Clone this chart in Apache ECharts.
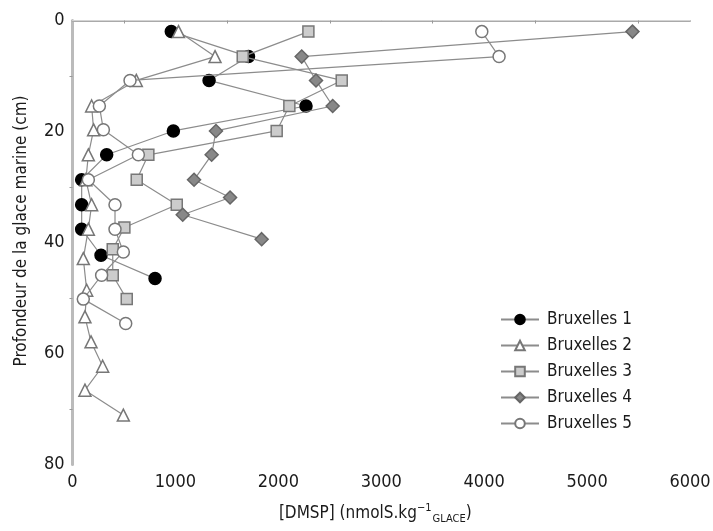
<!DOCTYPE html>
<html>
<head>
<meta charset="utf-8">
<script src="https://cdn.jsdelivr.net/npm/echarts@6/dist/echarts.min.js"></script>
<style>
  html, body { margin: 0; padding: 0; background: #fff; }
  #chart { width: 713px; height: 531px; }
</style>
</head>
<body>
<div id="chart"></div>
<script>
// DMSP (nmolS/kg) and depth (cm), one pair of arrays per site
const seriesNames = ['Bruxelles 1', 'Bruxelles 2', 'Bruxelles 3', 'Bruxelles 4', 'Bruxelles 5'];

const dmsp1 = [960, 1710, 1327, 2269, 980, 332, 89, 89, 89, 277, 802];
const depth1 = [2, 6.5, 10.8, 15.4, 19.9, 24.2, 28.7, 33.2, 37.6, 42.3, 46.5];

const dmsp2 = [1030, 1385, 620, 186, 205, 154, 130, 186, 154, 105, 138, 121, 180, 293, 121, 494];
const depth2 = [2, 6.5, 10.8, 15.4, 19.7, 24.2, 28.7, 33.2, 37.6, 42.9, 48.6, 53.4, 57.9, 62.3, 66.6, 71.1];

const dmsp3 = [2292, 1654, 2616, 2107, 1984, 737, 624, 1013, 504, 391, 391, 527];
const depth3 = [2, 6.5, 10.8, 15.4, 19.9, 24.2, 28.7, 33.2, 37.3, 41.2, 45.9, 50.2];

const dmsp4 = [5441, 2227, 2366, 2528, 1394, 1352, 1181, 1531, 1071, 1838];
const depth4 = [2, 6.5, 10.8, 15.4, 19.9, 24.2, 28.7, 31.9, 35.0, 39.4];

const dmsp5 = [3977, 4145, 559, 261, 300, 640, 154, 413, 413, 494, 283, 105, 517];
const depth5 = [2, 6.5, 10.8, 15.4, 19.7, 24.2, 28.7, 33.2, 37.6, 41.7, 45.9, 50.2, 54.6];

const xTicks = [0, 1000, 2000, 3000, 4000, 5000, 6000];
const yTicks = [0, 20, 40, 60, 80];

const font = '"DejaVu Sans Condensed", "Liberation Sans Narrow", sans-serif';

function zip(xs, ys) {
  return xs.map((x, i) => [x, ys[i]]);
}

const markers = [
  { symbol: 'circle', size: 12, fill: '#000000', border: '#000000' },
  { symbol: 'triangle', size: 12, fill: '#ffffff', border: '#777777' },
  { symbol: 'rect', size: 11, fill: '#cccccc', border: '#777777' },
  { symbol: 'diamond', size: 13, fill: '#888888', border: '#666666' },
  { symbol: 'circle', size: 12, fill: '#ffffff', border: '#777777' }
];

const dataSets = [
  zip(dmsp1, depth1),
  zip(dmsp2, depth2),
  zip(dmsp3, depth3),
  zip(dmsp4, depth4),
  zip(dmsp5, depth5)
];

const chart = echarts.init(document.getElementById('chart'));

chart.setOption({
  animation: false,
  backgroundColor: '#ffffff',
  grid: {
    left: 72.5,
    right: 23,
    top: 20.5,
    bottom: 66.5,
    outerBoundsMode: 'none'
  },
  legend: {
    orient: 'vertical',
    left: 495,
    top: 306,
    itemWidth: 38,
    itemHeight: 12,
    itemGap: 9,
    data: seriesNames,
    textStyle: {
      fontFamily: font,
      fontSize: 17,
      color: '#1a1a1a',
      padding: [0, 0, 0, 3]
    }
  },
  xAxis: [
    {
      type: 'value',
      min: xTicks[0],
      max: xTicks[xTicks.length - 1],
      interval: 1000,
      name: '{b|[DMSP] (nmolS.kg}{sup|−1}{sub|GLACE}{b|)}',
      nameLocation: 'middle',
      nameGap: 38,
      nameTextStyle: {
        padding: [0, 12, 0, 0],
        rich: {
          b: { fontFamily: font, fontSize: 17, color: '#1a1a1a', lineHeight: 22, verticalAlign: 'middle' },
          sup: { fontFamily: font, fontSize: 11, color: '#1a1a1a', lineHeight: 22, verticalAlign: 'top', padding: [0, 1, 7, 0] },
          sub: { fontFamily: font, fontSize: 11, color: '#1a1a1a', lineHeight: 22, verticalAlign: 'bottom', padding: [6, 0, 0, 0] }
        }
      },
      axisLine: { lineStyle: { color: '#aaaaaa', width: 2 } },
      axisTick: { show: false },
      minorTick: { show: true, splitNumber: 2, length: 3, lineStyle: { color: '#999999' } },
      splitLine: { show: false },
      axisLabel: {
        fontFamily: font,
        fontSize: 18,
        color: '#1a1a1a',
        margin: 9,
        formatter: (v) => String(v)
      }
    },
    {
      type: 'value',
      position: 'top',
      min: xTicks[0],
      max: xTicks[xTicks.length - 1],
      axisLine: { show: true, lineStyle: { color: '#d4d4d4', width: 1 } },
      axisTick: { show: false },
      axisLabel: { show: false },
      splitLine: { show: false }
    }
  ],
  yAxis: {
    type: 'value',
    inverse: true,
    min: yTicks[0],
    max: yTicks[yTicks.length - 1],
    interval: 20,
    name: 'Profondeur de la glace marine (cm)',
    nameLocation: 'middle',
    nameGap: 42,
    nameTextStyle: {
      fontFamily: font,
      fontSize: 17,
      color: '#1a1a1a',
      padding: [0, 0, 0, 23]
    },
    axisLine: { show: true, lineStyle: { color: '#bbbbbb', width: 3 } },
    axisTick: { show: false },
    minorTick: { show: true, splitNumber: 2, length: 3, lineStyle: { color: '#999999' } },
    splitLine: { show: false },
    axisLabel: {
      fontFamily: font,
      fontSize: 18,
      color: '#1a1a1a',
      margin: 8
    }
  },
  series: dataSets.map((points, i) => ({
    name: seriesNames[i],
    type: 'line',
    xAxisIndex: 0,
    data: points,
    symbol: markers[i].symbol,
    symbolSize: markers[i].size,
    showAllSymbol: true,
    lineStyle: { color: '#8c8c8c', width: 1.2 },
    itemStyle: {
      color: markers[i].fill,
      borderColor: markers[i].border,
      borderWidth: 1.5,
      opacity: 1
    },
    emphasis: { disabled: true },
    z: 2 + i
  }))
});
</script>
</body>
</html>
